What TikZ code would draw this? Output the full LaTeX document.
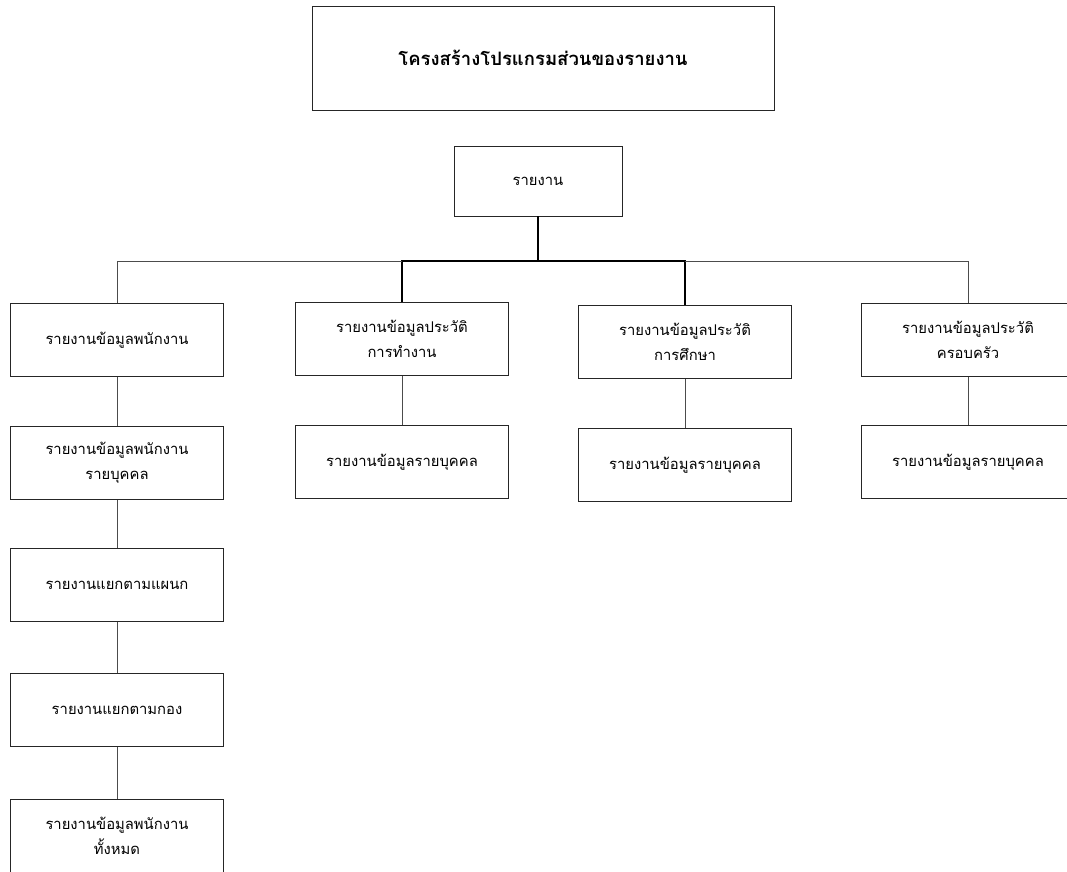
\documentclass[tikz,border=0pt]{standalone}
\usepackage{fontspec}
\newfontfamily\thaifont[Script=Thai]{Loma}
\begin{document}
\begin{tikzpicture}[x=1pt,y=-1pt]
\tikzstyle{report}=[draw=black!85,line width=0.9pt,minimum width=213pt,minimum height=73pt,align=center,font=\thaifont\fontsize{14.8}{25}\selectfont,inner sep=0pt]
\tikzstyle{titlebox}=[draw=black!85,line width=0.9pt,minimum width=462pt,minimum height=104pt,font=\thaifont\bfseries\fontsize{18.5}{20}\selectfont]
\tikzstyle{link}=[draw=black!70,line width=0.8pt]
\tikzstyle{trunk}=[draw=black,line width=1.6pt]
\useasboundingbox[fill=white] (0,0) rectangle (1067,871);
\node[titlebox] (title) at (543,58) {โครงสร้างโปรแกรมส่วนของรายงาน};
\node[report,minimum width=168pt,minimum height=70pt] (root) at (538,181) {รายงาน};
\node[report] (emp) at (117,340) {รายงานข้อมูลพนักงาน};
\node[report] (work) at (402,339) {รายงานข้อมูลประวัติ\\การทำงาน};
\node[report] (edu) at (685,342) {รายงานข้อมูลประวัติ\\การศึกษา};
\node[report] (fam) at (968,340) {รายงานข้อมูลประวัติ\\ครอบครัว};
\node[report] (empone) at (117,463) {รายงานข้อมูลพนักงาน\\รายบุคคล};
\node[report] (workone) at (402,462) {รายงานข้อมูลรายบุคคล};
\node[report] (eduone) at (685,465) {รายงานข้อมูลรายบุคคล};
\node[report] (famone) at (968,462) {รายงานข้อมูลรายบุคคล};
\node[report] (dept) at (117,585) {รายงานแยกตามแผนก};
\node[report] (div) at (117,710) {รายงานแยกตามกอง};
\node[report] (all) at (117,836) {รายงานข้อมูลพนักงาน\\ทั้งหมด};
\coordinate (bus) at (538,261);
\draw[trunk] (root) -- (bus);
\draw[trunk] (bus) -| (work.north);
\draw[trunk] (bus) -| (edu.north);
\draw[link] (work.north |- bus) -| (emp.north);
\draw[link] (edu.north |- bus) -| (fam.north);
\draw[link] (emp) -- (empone);
\draw[link] (empone) -- (dept);
\draw[link] (dept) -- (div);
\draw[link] (div) -- (all);
\draw[link] (work) -- (workone);
\draw[link] (edu) -- (eduone);
\draw[link] (fam) -- (famone);
\end{tikzpicture}
\end{document}
